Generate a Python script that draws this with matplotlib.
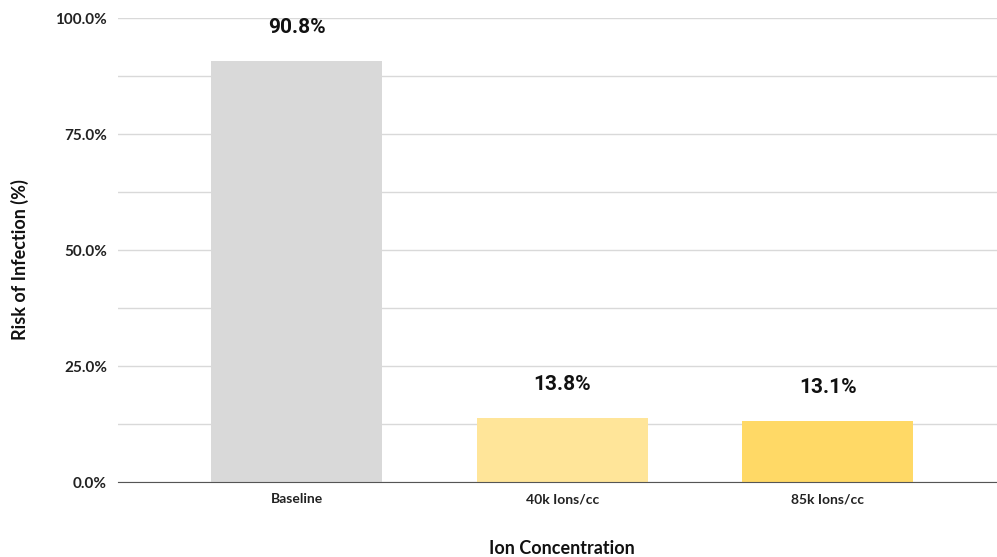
import matplotlib
matplotlib.use("Agg")
from matplotlib import pyplot as plt
from matplotlib.ticker import MultipleLocator, PercentFormatter

categories = ["Baseline", "40k Ions/cc", "85k Ions/cc"]
risk = [90.8, 13.8, 13.1]
colors = ["#d9d9d9", "#ffe599", "#ffd966"]

fig = plt.figure(figsize=(9.97, 5.57), dpi=100)
# axes spans x 118..997 px, y 18..482 px
ax = fig.add_axes([118 / 997, 1 - 482 / 557, (997 - 118) / 997, (482 - 18) / 557])

x = list(range(len(categories)))
ax.bar(x, risk, width=0.644, color=colors, zorder=3)

for xi, v in zip(x, risk):
    ax.annotate(f"{v:.1f}%", (xi, v), xytext=(0, 24), textcoords="offset points",
                ha="center", va="center", fontsize=15, fontweight="bold",
                family="Roboto", color="#111111")

ax.set_xlim(-0.674, 2.637)
ax.set_ylim(0, 100)
ax.yaxis.set_major_locator(MultipleLocator(25))
ax.yaxis.set_minor_locator(MultipleLocator(12.5))
ax.yaxis.set_major_formatter(PercentFormatter(decimals=1))
ax.grid(axis="y", which="both", color="#d9d9d9", linewidth=1, zorder=0)
ax.tick_params(axis="both", which="both", length=0)
ax.tick_params(axis="y", pad=8)
ax.tick_params(axis="x", pad=8)

ax.set_xticks(x)
ax.set_xticklabels(categories)
for lbl in ax.get_xticklabels():
    lbl.set_family("Lato")
    lbl.set_fontweight("bold")
    lbl.set_fontsize(10)
    lbl.set_color("#222222")
for lbl in ax.get_yticklabels():
    lbl.set_family("Lato")
    lbl.set_fontweight("bold")
    lbl.set_fontsize(11)
    lbl.set_color("#222222")

for s in ["top", "right", "left"]:
    ax.spines[s].set_visible(False)
ax.spines["bottom"].set_color("#555555")
ax.spines["bottom"].set_zorder(4)

fig.text(20 / 997, 1 - 260 / 557, "Risk of Infection (%)", rotation=90, ha="center", va="center",
         family="Lato", fontweight="bold", fontsize=13, color="#111111")
fig.text(562 / 997, 1 - 548 / 557, "Ion Concentration", ha="center", va="center",
         family="Lato", fontweight="bold", fontsize=13, color="#111111")

fig.savefig("out.png", dpi=100)
